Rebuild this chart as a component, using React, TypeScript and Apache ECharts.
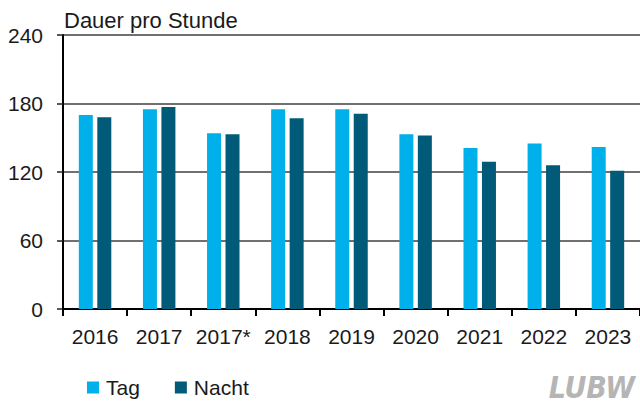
import React, { useEffect, useRef } from "react";
import * as echarts from "echarts";

const categories = ["2016", "2017", "2017*", "2018", "2019", "2020", "2021", "2022", "2023"];
const tagValues = [170, 175, 154, 175, 175, 153, 141, 145, 142];
const nachtValues = [168, 177, 153, 167, 171, 152, 129, 126, 121];
const yTicks = { min: 0, max: 240, interval: 60 };

const FONT = "'Liberation Sans', Arial, Helvetica, sans-serif";

export default function App() {
  const ref = useRef<HTMLDivElement>(null);
  useEffect(() => {
    document.body.style.margin = "0";
    if (!ref.current) return;
    const chart = echarts.init(ref.current, null, { renderer: "svg" });
    chart.setOption({
      animation: false,
      backgroundColor: "#ffffff",
      textStyle: { fontFamily: FONT },
      grid: { left: 63, right: -3, top: 35, bottom: 94, containLabel: false },
      title: {
        text: "Dauer pro Stunde",
        left: 59,
        top: 4,
        textStyle: { fontFamily: FONT, fontSize: 22, fontWeight: "normal", color: "#1a1a1a" },
      },
      legend: {
        left: 82,
        top: 372,
        itemWidth: 12,
        itemHeight: 12,
        itemGap: 35,
        icon: "rect",
        textStyle: { fontFamily: FONT, fontSize: 21, color: "#1a1a1a", padding: [0, 0, 0, 2] },
        data: ["Tag", "Nacht"],
      },
      xAxis: {
        type: "category",
        data: categories,
        axisLine: { lineStyle: { color: "#000", width: 2 } },
        axisTick: { show: true, length: 7, lineStyle: { color: "#000", width: 2 } },
        axisLabel: { fontFamily: FONT, fontSize: 21, color: "#1a1a1a", margin: 17, interval: 0 },
        splitLine: { show: false },
      },
      yAxis: {
        type: "value",
        min: yTicks.min,
        max: yTicks.max,
        interval: yTicks.interval,
        axisLine: { show: true, lineStyle: { color: "#000", width: 2 } },
        axisTick: { show: true, length: 6, lineStyle: { color: "#222", width: 1.5 } },
        axisLabel: { fontFamily: FONT, fontSize: 21, color: "#1a1a1a", margin: 20 },
        splitLine: { show: true, lineStyle: { color: "#404040", width: 1.5 } },
      },
      series: [
        {
          name: "Tag",
          type: "bar",
          data: tagValues,
          barWidth: 14,
          barGap: "32%",
          itemStyle: { color: "#00b0ea" },
        },
        {
          name: "Nacht",
          type: "bar",
          data: nachtValues,
          barWidth: 14,
          barGap: "32%",
          itemStyle: { color: "#005a78" },
        },
      ],
      graphic: [
        {
          type: "text",
          right: 5,
          top: 372,
          style: {
            text: "LUBW",
            fontFamily: "'DejaVu Sans Condensed', 'DejaVu Sans', sans-serif",
            fontStyle: "italic",
            fontWeight: "bold",
            fontSize: 30,
            fill: "#b5b5b5",
          },
        },
      ],
    });
    return () => chart.dispose();
  }, []);
  return <div ref={ref} style={{ width: 640, height: 403 }} />;
}
